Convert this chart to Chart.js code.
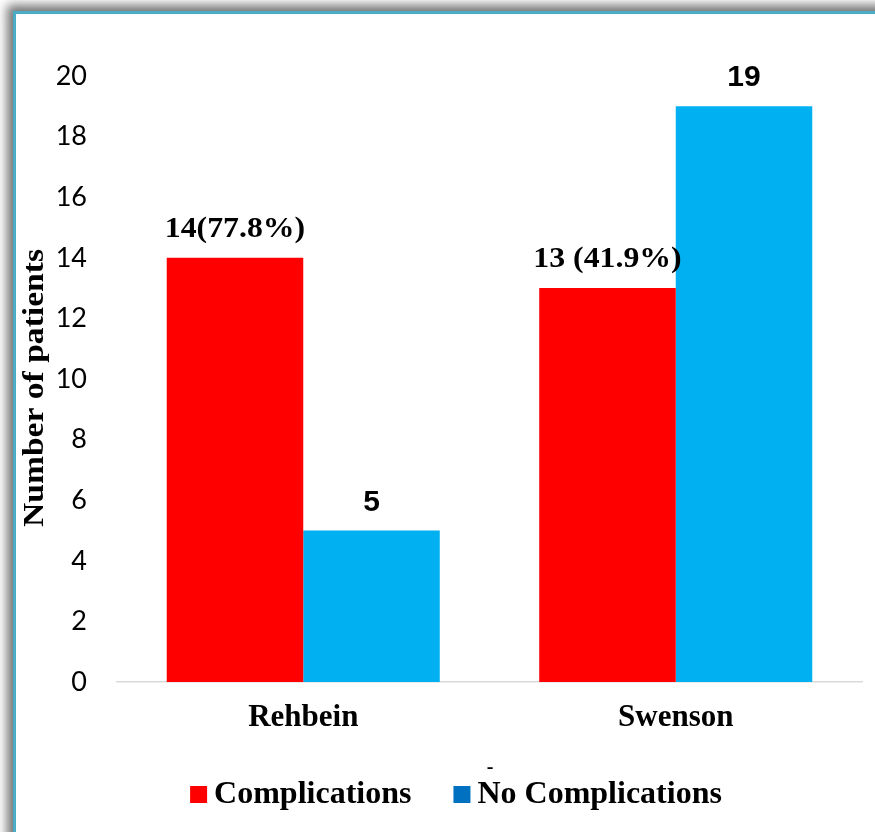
<!DOCTYPE html>
<html>
<head>
<meta charset="utf-8">
<script src="https://cdn.jsdelivr.net/npm/chart.js@4/dist/chart.umd.min.js"></script>
<style>
  html, body { margin: 0; padding: 0; background: #fff; overflow: hidden; width: 875px; height: 832px; }
  #frame {
    position: absolute; left: 13px; top: 11px; width: 900px; height: 880px;
    background: #fff;
    border-left: 3px solid #4BACC6; border-top: 3px solid #4BACC6;
    box-shadow: -6px -6px 10px rgba(0, 0, 0, 0.55);
  }
  #c { position: absolute; left: 0; top: 0; }
</style>
</head>
<body>
<div id="frame"></div>
<canvas id="c" width="875" height="832"></canvas>
<script>
// Patients by surgical technique
const categories = ['Rehbein', 'Swenson'];
const complications = [14, 13];
const noComplications = [5, 19];
// percentage suffix shown after the complications count
const complicationPct = ['(77.8%)', ' (41.9%)'];
const seriesNames = ['Complications', 'No Complications'];
const yMin = 0, yMax = 20, yStep = 2;

const SERIF = '"Liberation Serif", "Times New Roman", serif';
const SANS = '"Liberation Sans", Arial, sans-serif';

// draws text stretched along its reading direction
function stretchedText(ctx, text, x, y, sx, align) {
  ctx.save();
  ctx.translate(x, y);
  ctx.scale(sx, 1);
  ctx.textAlign = align;
  ctx.fillText(text, 0, 0);
  ctx.restore();
}

const valueLabels = {
  id: 'valueLabels',
  afterDatasetsDraw(chart) {
    const ctx = chart.ctx;
    ctx.save();
    ctx.fillStyle = '#000';
    ctx.textBaseline = 'alphabetic';
    chart.data.datasets.forEach((ds, di) => {
      const meta = chart.getDatasetMeta(di);
      meta.data.forEach((bar, i) => {
        const v = ds.data[i];
        if (di === 0) {
          ctx.font = 'bold 30px ' + SERIF;
          stretchedText(ctx, String(v) + complicationPct[i], bar.x, bar.y - 21, 1.06, 'center');
        } else {
          ctx.font = 'bold 30px ' + SANS;
          stretchedText(ctx, String(v), bar.x, bar.y - 20, 1.0, 'center');
        }
      });
    });
    ctx.restore();
  }
};

const yTitle = {
  id: 'yTitle',
  afterDraw(chart, args, opts) {
    const ctx = chart.ctx;
    ctx.save();
    ctx.fillStyle = '#000';
    ctx.font = 'bold 30px ' + SERIF;
    ctx.textBaseline = 'middle';
    ctx.translate(opts.x, opts.y);
    ctx.rotate(-Math.PI / 2);
    stretchedText(ctx, opts.text, 0, 0, 1.12, 'center');
    ctx.restore();
  }
};

const bottomLegend = {
  id: 'bottomLegend',
  afterDraw(chart, args, opts) {
    const ctx = chart.ctx;
    ctx.save();
    ctx.font = 'bold 32px ' + SERIF;
    ctx.textBaseline = 'alphabetic';
    const box = 17, gapText = 7, gapItem = 42;
    const items = chart.data.datasets.map((ds, i) => ({
      text: ds.label, color: opts.swatches[i], w: ctx.measureText(ds.label).width
    }));
    const total = items.reduce((s, it) => s + box + gapText + it.w, 0) + gapItem * (items.length - 1);
    let x = opts.centerX - total / 2;
    items.forEach(it => {
      ctx.fillStyle = it.color;
      ctx.fillRect(x, opts.baseline - box, box, box);
      ctx.fillStyle = '#000';
      ctx.textAlign = 'left';
      ctx.fillText(it.text, x + box + gapText, opts.baseline);
      x += box + gapText + it.w + gapItem;
    });
    // small stray dash above the legend
    ctx.font = 'bold 20px ' + SERIF;
    ctx.textAlign = 'center';
    ctx.fillText('-', opts.dashX, opts.dashY);
    ctx.restore();
  }
};

new Chart(document.getElementById('c'), {
  type: 'bar',
  data: {
    labels: categories,
    datasets: [
      { label: seriesNames[0], data: complications, backgroundColor: '#FF0000' },
      { label: seriesNames[1], data: noComplications, backgroundColor: '#00B0F0' }
    ]
  },
  options: {
    responsive: false,
    animation: false,
    devicePixelRatio: 1,
    layout: { padding: { left: 0, right: 13, top: 76, bottom: 90 } },
    datasets: { bar: { barPercentage: 1.0, categoryPercentage: 0.733 } },
    scales: {
      x: {
        grid: { display: false, drawTicks: false },
        border: { display: true, color: '#D9D9D9', width: 1.5 },
        ticks: { color: '#000', padding: 17, font: { family: SERIF, size: 31, weight: 'bold' } },
        afterFit(scale) { scale.height = 60; }
      },
      y: {
        min: yMin, max: yMax,
        grid: { display: false, drawTicks: false },
        border: { display: false },
        ticks: { stepSize: yStep, color: '#000', padding: 30, font: { family: 'Lato', size: 27 } },
        afterFit(scale) { scale.width = 117; }
      }
    },
    plugins: {
      legend: { display: false },
      tooltip: { enabled: false },
      yTitle: { text: 'Number of patients', x: 35, y: 388 },
      bottomLegend: { swatches: ['#FF0000', '#0070C0'], centerX: 456, baseline: 803, dashX: 490, dashY: 773 }
    }
  },
  plugins: [valueLabels, yTitle, bottomLegend]
});
</script>
</body>
</html>
